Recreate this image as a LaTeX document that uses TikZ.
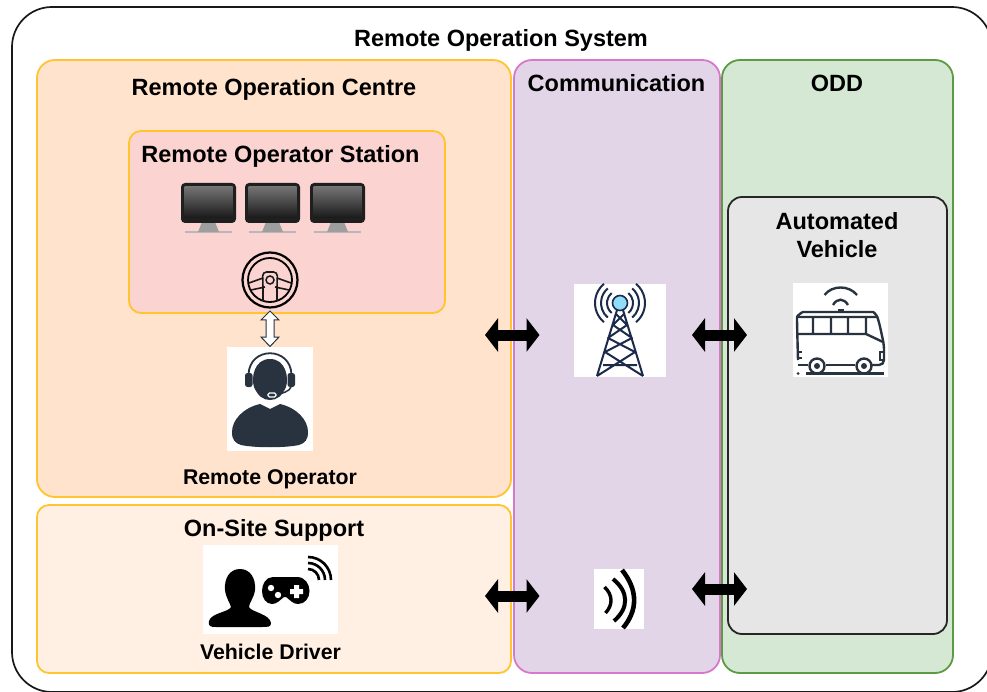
\documentclass[tikz,border=0pt]{standalone}
\usepackage{fontspec}
\setmainfont{Liberation Sans}
\usetikzlibrary{arrows.meta}
\definecolor{orangefill}{HTML}{FFE3CC}
\definecolor{sitefill}{HTML}{FFF0E3}
\definecolor{pinkfill}{HTML}{FBD3D0}
\definecolor{commfill}{HTML}{E1D5E7}
\definecolor{oddfill}{HTML}{D5E8D4}
\definecolor{vehfill}{HTML}{E6E6E6}
\definecolor{goldline}{HTML}{FFC42E}
\definecolor{commline}{HTML}{D878CC}
\definecolor{oddline}{HTML}{5C9A44}
\definecolor{icondark}{HTML}{293340}
\definecolor{towerdark}{HTML}{1C2B4A}
\definecolor{towerblue}{HTML}{8FDDF7}
\tikzset{
  panel/.style={line width=1.8pt,rounded corners=18pt},
  bigtitle/.style={font=\fontsize{23.5}{27}\selectfont\bfseries,align=center,inner sep=0pt},
  smalltitle/.style={font=\fontsize{21.3}{25}\selectfont\bfseries,align=center,inner sep=0pt},
  blockarrow/.style={line width=11pt,{Triangle[length=13pt,width=33pt]}-{Triangle[length=13pt,width=33pt]}},
  iconbox/.style={fill=white,draw=none},
  busline/.style={line width=2.4pt,draw=icondark},
  towerline/.style={line width=2pt,draw=towerdark},
}
\begin{document}
\begin{tikzpicture}[x=1pt,y=-1pt]
\useasboundingbox (0,0) rectangle (987,692);
\clip (0,0) rectangle (987,692);
\fill[white] (0,0) rectangle (987,692);
% panels
\draw[line width=1.7pt,rounded corners=40pt,draw=black!90] (12,7) rectangle (992,692);
\draw[panel,fill=orangefill,draw=goldline] (37,60) rectangle (511,497);
\draw[panel,fill=pinkfill,draw=goldline,rounded corners=12pt] (129,131) rectangle (445,313);
\draw[panel,fill=sitefill,draw=goldline,rounded corners=12pt] (37,505) rectangle (511,673);
\draw[panel,fill=commfill,draw=commline] (514,60) rectangle (720,673);
\draw[panel,fill=oddfill,draw=oddline] (722,60) rectangle (953,673);
\draw[panel,fill=vehfill,draw=black!85,rounded corners=14pt] (728,197) rectangle (947,634);
% titles
\node[bigtitle] (system) at (501,40) {Remote Operation System};
\node[bigtitle] (centre) at (274,89) {Remote Operation Centre};
\node[bigtitle] (station) at (280.5,156.5) {Remote Operator Station};
\node[bigtitle] (comm) at (616.5,83) {Communication};
\node[bigtitle] (odd) at (837,83) {ODD};
\node[bigtitle] (vehicle) at (837,235) {Automated\\[1pt]Vehicle};
\node[smalltitle] (operator) at (270,479) {Remote Operator};
\node[bigtitle] (support) at (274,530) {On-Site Support};
\node[smalltitle] (driver) at (270.5,652) {Vehicle Driver};
% white backgrounds of the icons
\fill[iconbox] (227,347) rectangle (313,451);
\fill[iconbox] (203,545) rectangle (338,634);
\fill[iconbox] (574,284) rectangle (666,377);
\fill[iconbox] (793,283) rectangle (888,377);
\fill[iconbox] (594,569) rectangle (644,629);
% monitors
\foreach \mx in {181,245,310}{
  \fill[black!28] (\mx+4,231.5) rectangle (\mx+51,233.5);
  \fill[black!38] (\mx+21,222) -- (\mx+34,222) -- (\mx+38,232) -- (\mx+17,232) -- cycle;
  \fill[black!88,rounded corners=4pt] (\mx,183) rectangle (\mx+55,223);
  \shade[top color=black!55,bottom color=black!90] (\mx+3.5,187) rectangle (\mx+51.5,218);
}
% steering wheel
\draw[line width=2.2pt,draw=black] (270,280) circle (27.5);
\draw[line width=1.8pt,draw=black] (270,280) circle (22);
\draw[line width=1.6pt,draw=black!90] (249,283) -- (263,278) (251,290) -- (265,287) (291,283) -- (277,278) (289,290) -- (275,287);
\draw[line width=1.6pt,draw=black!90,rounded corners=4pt] (263,301) -- (263,286) -- (262.5,272) -- (277.5,272) -- (277,286) -- (277,301);
\draw[line width=1.5pt,draw=black!90] (270,280) circle (4);
% operator
\fill[icondark] (270,359) .. controls (286,359) and (289,378) .. (286,387) .. controls (282,396) and (277,400) .. (270,400) .. controls (263,400) and (258,396) .. (254,387) .. controls (251,378) and (254,359) .. (270,359) -- cycle;
\fill[icondark] (260,404) -- (270,409) -- (280,404) .. controls (297,408) and (308,420) .. (308,432) .. controls (308,440) and (305,443) .. (299,445) .. controls (285,448) and (255,448) .. (241,445) .. controls (235,443) and (232,440) .. (232,432) .. controls (232,420) and (243,408) .. (260,404) -- cycle;
\draw[line width=1.8pt,draw=icondark] (248.5,375) .. controls (249,346) and (291,346) .. (291.5,375);
\fill[icondark,rounded corners=2.5pt] (245,373) rectangle (252.5,387);
\fill[icondark,rounded corners=2.5pt] (287.5,373) rectangle (295,387);
\draw[line width=1.5pt,draw=icondark] (291,387) .. controls (290,391) and (282,394) .. (275,394.5);
\draw[line width=1.2pt,draw=white,fill=icondark,rounded corners=1.5pt] (268,393) rectangle (276,397);
% driver
\fill[black] (240,569) .. controls (250,569) and (256,578) .. (255,590) .. controls (254,598) and (249,603) .. (249,607) .. controls (251,612) and (270,614) .. (271,623) .. controls (271,627) and (268,627) .. (262,627) -- (216,627) .. controls (210,627) and (208,626) .. (209,621) .. controls (211,613) and (229,612) .. (231,607) .. controls (230,603) and (226,598) .. (225,590) .. controls (224,578) and (230,569) .. (240,569) -- cycle;
\fill[black] (273,577) -- (297,577) .. controls (305,577) and (309.5,584) .. (309.5,591) .. controls (309.5,598) and (305,604) .. (298,604) .. controls (293,604) and (290,600) .. (286,597) -- (284,597) .. controls (280,600) and (277,604) .. (272,604) .. controls (266,604) and (262,598) .. (262,591) .. controls (262,584) and (266,577) .. (273,577) -- cycle;
\fill[white] (271,588) circle (3.2) (278,595) circle (3.2);
\fill[white] (294,585) rectangle (299,598) (290,589) rectangle (303,594);
\draw[line width=2.6pt,draw=black] (308,569) arc (-90:0:11);
\draw[line width=2.6pt,draw=black] (308,563) arc (-90:0:17);
\draw[line width=2.6pt,draw=black] (308,557) arc (-90:0:23);
% tower
\foreach \rad in {13,19,25}{
  \draw[towerline] (620,303) ++(130:\rad) arc (130:230:\rad);
  \draw[towerline] (620,303) ++(50:\rad) arc (50:-50:\rad);
}
\draw[line width=1.6pt,draw=towerdark,fill=towerblue] (620,303) circle (7.5);
\draw[towerline,line join=round]
  (617,310) -- (597,376) (623,310) -- (643,376)
  (597,376) -- (635,352) -- (608,338) -- (627,325) -- (616,314)
  (643,376) -- (605,352) -- (632,338) -- (613,325) -- (624,314)
  (603,365) -- (637,365);
% bus
\draw[busline,rounded corners=5pt] (798,360) -- (797,322) .. controls (797,316) and (802,312) .. (808,312) -- (868,312) .. controls (874,312) and (877,316) .. (879,322) -- (884,345) -- (884,365) -- (872,365);
\draw[busline] (797,317) -- (877,317) (813,317) -- (813,334) (831,317) -- (831,334) (848,317) -- (848,334) (866,317) -- (866,334) (798,334) -- (866,334) -- (883,342);
\draw[busline] (798,365) -- (808,365) (826,365) -- (855,365) (798,352) -- (802,352) (798,358) -- (802,358);
\draw[busline,fill=white] (817,366) circle (7.5) (864,366) circle (7.5);
\fill[icondark] (817,366) circle (3) (864,366) circle (3);
\draw[busline] (806,373.5) -- (884,373.5);
\fill[icondark] (798,373.5) circle (1.5);
\draw[busline] (824.5,295) .. controls (832,285) and (849,285) .. (857,295);
\draw[busline] (833,305) .. controls (837,298) and (844,298) .. (848,305);
\fill[icondark] (837.5,309.5) rectangle (843.5,312);
\draw[line width=1.2pt,draw=icondark] (880,352) rectangle (884,360);
% waves
\draw[line width=3.4pt,draw=black] (604.5,587) .. controls (613,595) and (613,605) .. (605.5,613);
\draw[line width=4pt,draw=black] (613,579) .. controls (629,592) and (629,608) .. (614,621);
\draw[line width=4.6pt,draw=black] (622,570) .. controls (638,590) and (638,610) .. (623,628);
% connectors
\coordinate (opleft) at (485,335);
\coordinate (commleft) at (539.5,335);
\coordinate (commright) at (692,335);
\coordinate (vehleft) at (747,335);
\coordinate (siteleft) at (485,596);
\coordinate (wavesleft) at (539.5,596);
\coordinate (wavesright) at (692,589);
\coordinate (vehlow) at (747,589);
\draw[blockarrow] (opleft) -- (commleft);
\draw[blockarrow] (commright) -- (vehleft);
\draw[blockarrow] (siteleft) -- (wavesleft);
\draw[blockarrow] (wavesright) -- (vehlow);
\draw[line width=1pt,draw=icondark,fill=white,line join=miter]
  (270,311) -- (279,320) -- (274,320) -- (274,337) -- (279,337) -- (270,346.5) -- (261,337) -- (266,337) -- (266,320) -- (261,320) -- cycle;
\end{tikzpicture}
\end{document}
